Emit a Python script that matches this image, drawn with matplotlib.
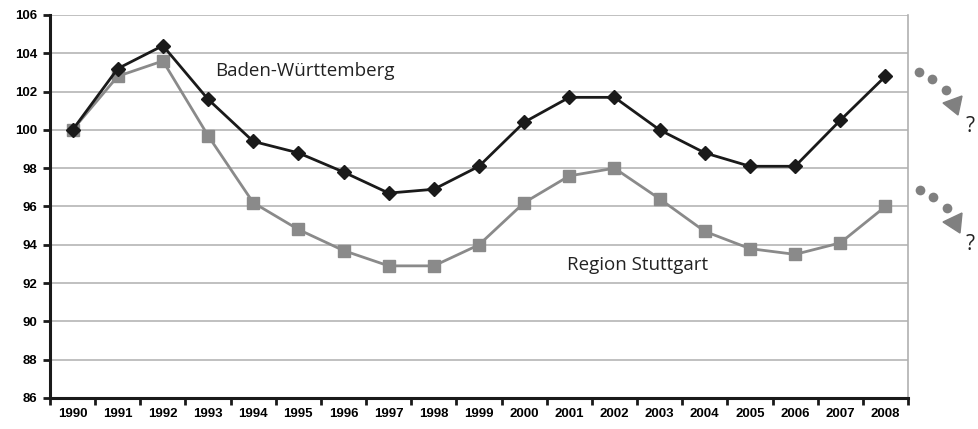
import numpy as np
import matplotlib
matplotlib.use('Agg')
import matplotlib.pyplot as plt
from matplotlib.patches import Polygon
from matplotlib.lines import Line2D

years = [str(y) for y in range(1990, 2009)]
bw = [100.0, 103.2, 104.4, 101.6, 99.4, 98.8, 97.8, 96.7, 96.9, 98.1,
      100.4, 101.7, 101.7, 100.0, 98.8, 98.1, 98.1, 100.5, 102.8]
stuttgart = [100.0, 102.8, 103.6, 99.7, 96.2, 94.8, 93.7, 92.9, 92.9, 94.0,
             96.2, 97.6, 98.0, 96.4, 94.7, 93.8, 93.5, 94.1, 96.0]
yticks = np.arange(86, 107, 2)

W, H = 979, 429
fig = plt.figure(figsize=(W / 100, H / 100), dpi=100)
ax = fig.add_axes([50 / W, 31 / H, 858 / W, 383 / H])

x = np.arange(len(years))
ax.plot(x, stuttgart, color='#8a8a8a', lw=2, marker='s', ms=8, zorder=3)
ax.plot(x, bw, color='#1a1a1a', lw=2, marker='D', ms=7, zorder=4)

ax.set_xlim(-0.5, len(years) - 0.5)
ax.set_ylim(86, 106)
ax.set_yticks(yticks)
ax.set_yticklabels([str(v) for v in yticks], fontsize=9.5, fontweight='bold',
                   family='Liberation Sans')
ax.set_xticks(x)
ax.set_xticklabels(years, fontsize=9.5, fontweight='bold', family='Liberation Sans')
ax.set_xticks(np.arange(-0.5, len(years)), minor=True)
ax.tick_params(axis='x', which='major', length=0, pad=7)
ax.tick_params(axis='x', which='minor', length=5, width=2, color='#1a1a1a')
ax.tick_params(axis='y', length=5, width=2, color='#1a1a1a', pad=4)
ax.grid(axis='y', color='#b5b5b5', lw=1.2)
ax.set_axisbelow(True)

for s in ['left', 'bottom']:
    ax.spines[s].set_linewidth(2.2)
    ax.spines[s].set_color('#1a1a1a')
ax.spines['top'].set_visible(False)
ax.spines['right'].set_color('#b0b0b0')
ax.spines['right'].set_linewidth(1.2)

ax.text(3.15, 102.8, 'Baden-Württemberg', fontsize=13.5, family='Open Sans',
        color='#222222')
ax.text(10.95, 92.7, 'Region Stuttgart', fontsize=13.5, family='Open Sans',
        color='#222222')

# dotted arrows with question marks on the right (figure pixels)
def fp(px, py):
    return (px / W, (H - py) / H)

gray = '#808080'
for dots, tri, qy in [
    ([(919, 72), (932, 79), (946, 90)],
     [(943, 103), (962, 96), (958, 115)], 126),
    ([(920, 190), (933, 197), (947, 208)],
     [(943, 222), (962, 213), (960, 233)], 244),
]:
    xs = [fp(*d)[0] for d in dots]
    ys = [fp(*d)[1] for d in dots]
    fig.add_artist(Line2D(xs, ys, transform=fig.transFigure, ls='none',
                          marker='o', ms=7, color=gray, mew=0))
    fig.add_artist(Polygon([fp(*p) for p in tri], closed=True,
                           transform=fig.transFigure, color=gray))
    fig.text(966 / W, (H - qy) / H, '?', fontsize=15, family='Open Sans',
             color='#222222', va='center', ha='left')

fig.savefig('out.png', dpi=100)
